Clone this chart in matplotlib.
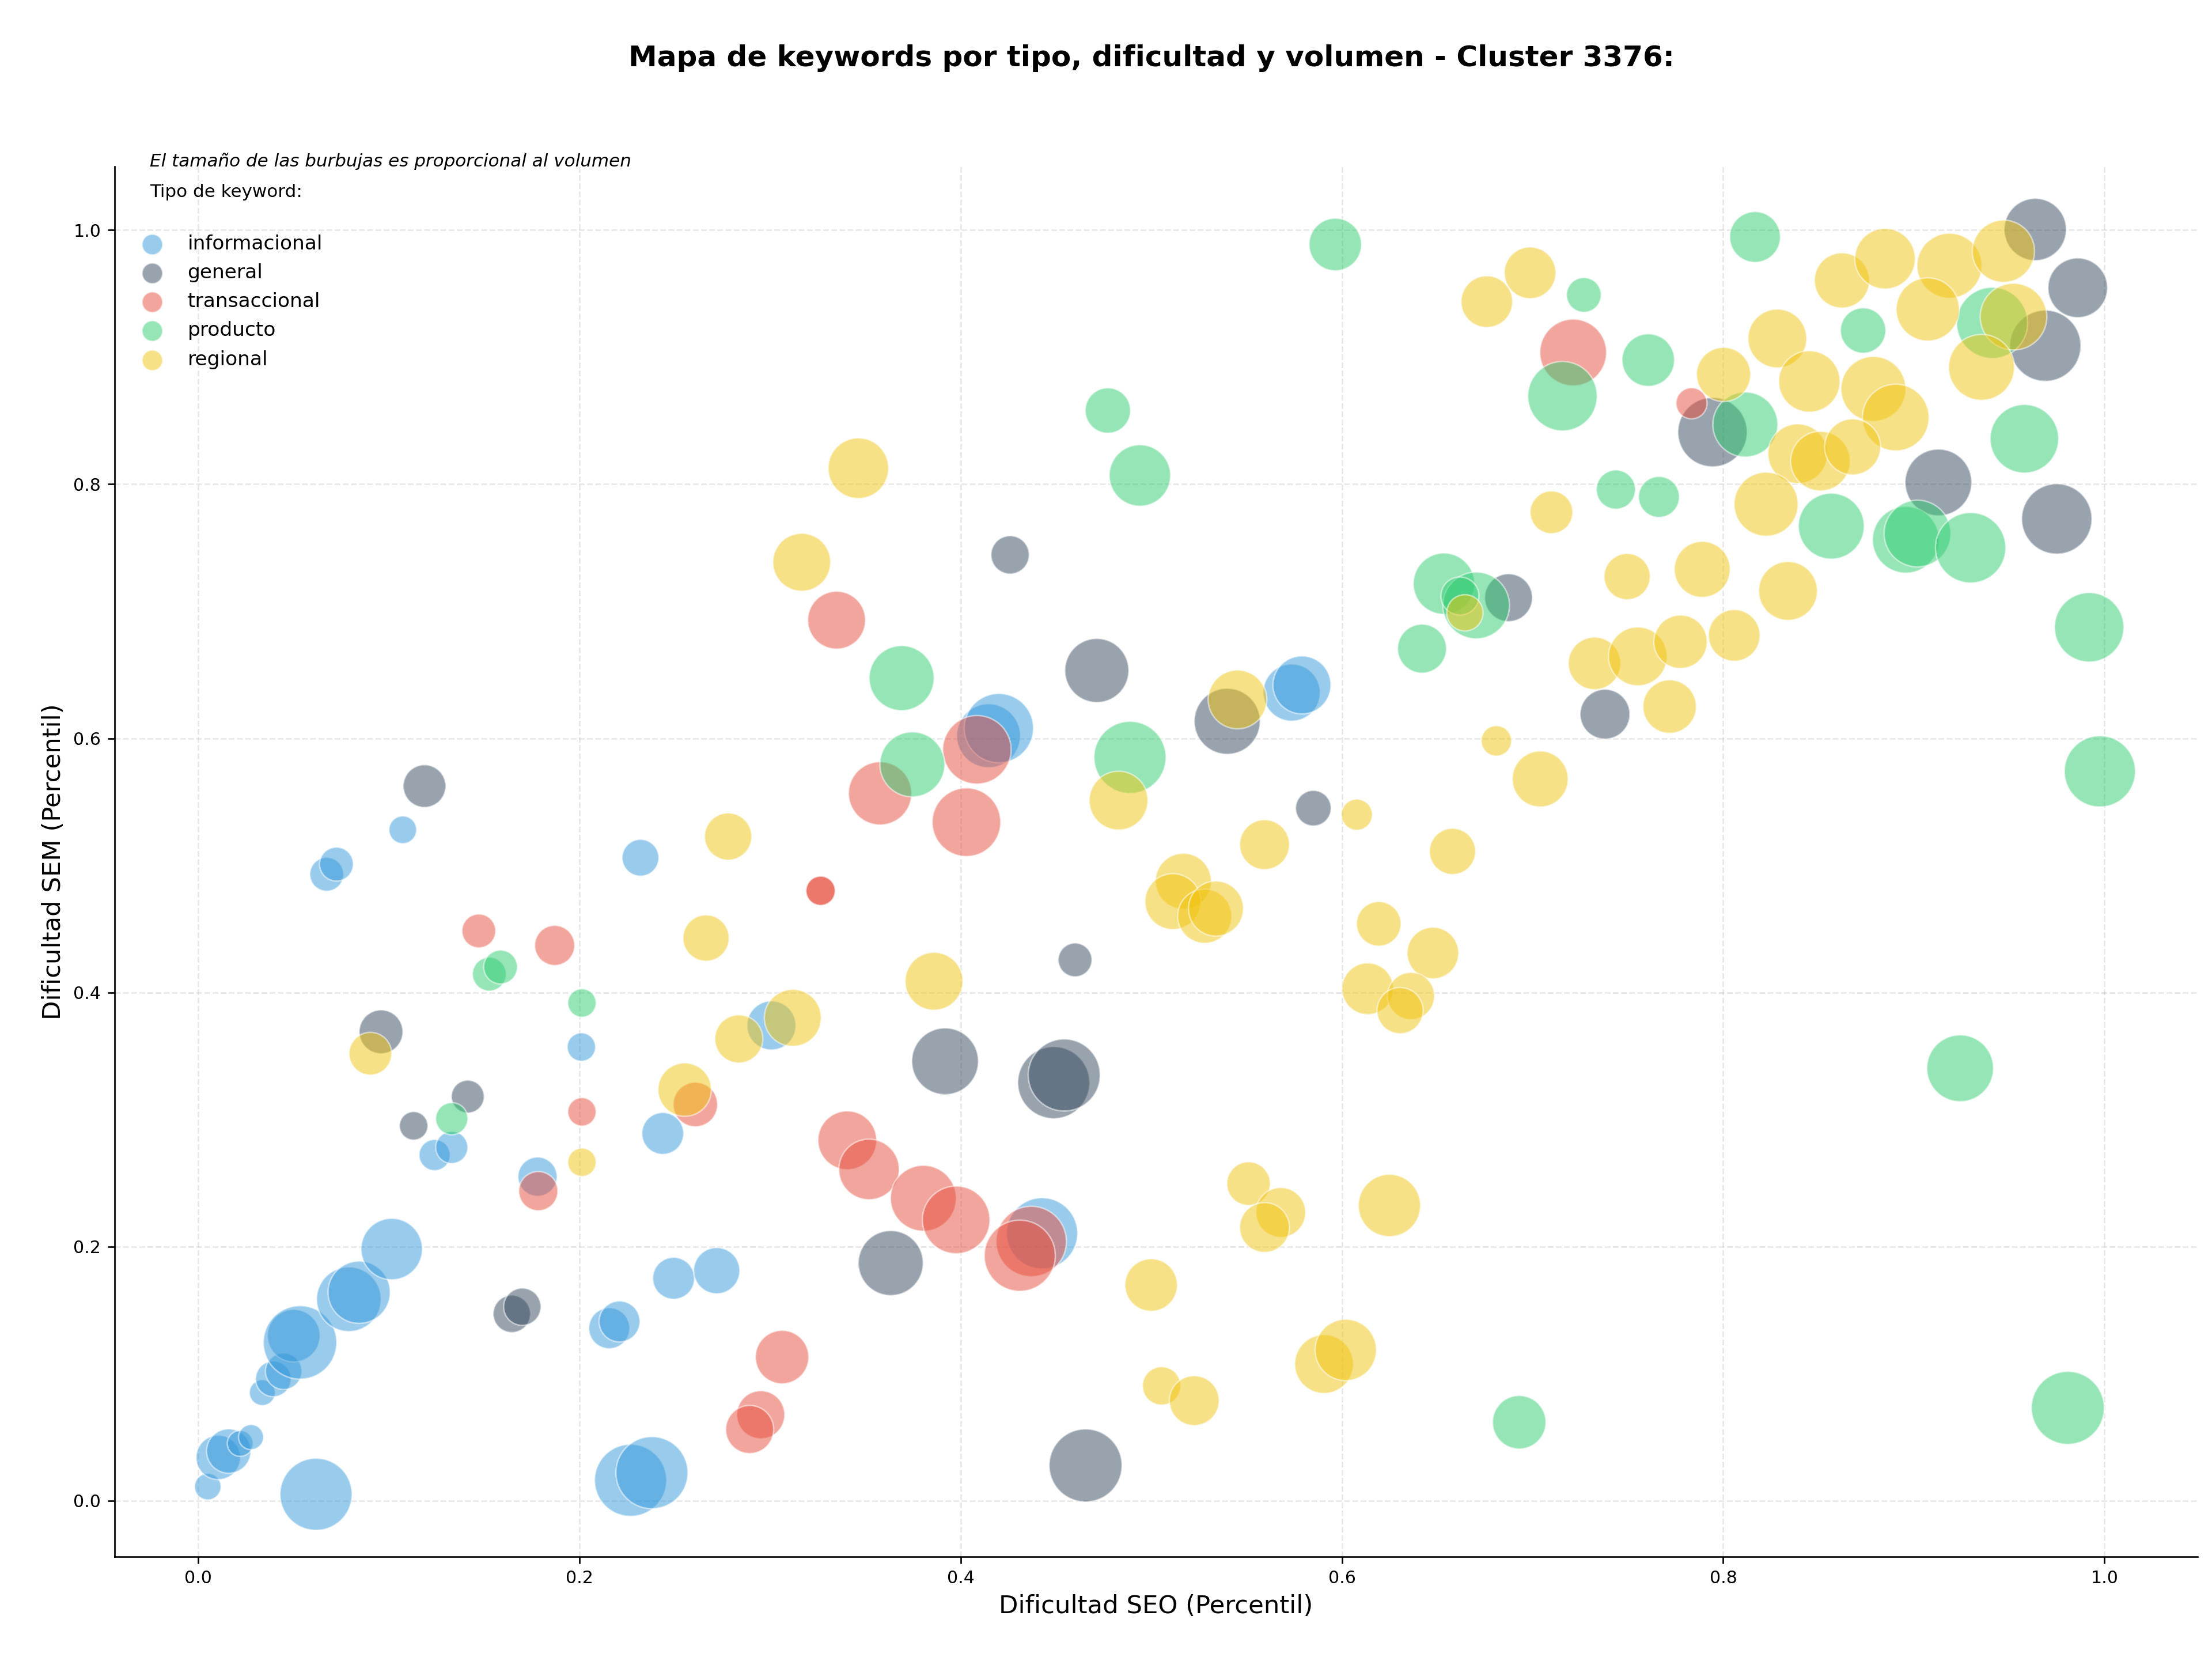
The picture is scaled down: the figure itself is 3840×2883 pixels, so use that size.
import matplotlib
matplotlib.use("Agg")
import matplotlib.pyplot as plt
import numpy as np

# datos: dificultad SEO (x), dificultad SEM (y), volumen (tamano)
info_x = [0.005, 0.0105, 0.016, 0.022, 0.0277, 0.0336, 0.0394, 0.0448, 0.0501, 0.0534,
          0.0618, 0.079, 0.0844, 0.1015, 0.0674, 0.0725, 0.1073, 0.124, 0.133, 0.178,
          0.201, 0.2156, 0.221, 0.2268, 0.238, 0.232, 0.2437, 0.2494, 0.272, 0.3007,
          0.4146, 0.42, 0.4427, 0.5736, 0.579]
info_y = [0.011, 0.034, 0.039, 0.045, 0.050, 0.085, 0.0958, 0.1018, 0.1298, 0.1245,
          0.005, 0.1585, 0.164, 0.198, 0.493, 0.501, 0.528, 0.272, 0.278, 0.255,
          0.357, 0.1357, 0.141, 0.016, 0.022, 0.506, 0.289, 0.175, 0.181, 0.374,
          0.602, 0.608, 0.2104, 0.636, 0.642]
info_vol = [190, 534, 534, 181, 170, 180, 343, 360, 747, 1460,
            1406, 1128, 1050, 1020, 310, 310, 207, 262, 280, 415,
            218, 454, 454, 1406, 1406, 365, 475, 475, 577, 650,
            1100, 1300, 1370, 882, 910]

gen_x = [0.1187, 0.0959, 0.113, 0.1414, 0.1645, 0.170, 0.4259, 0.4714, 0.5398, 0.585,
         0.46, 0.3918, 0.4488, 0.4543, 0.3633, 0.4655, 0.7944, 0.6874, 0.738, 0.9129,
         0.975, 0.969, 0.986, 0.9637]
gen_y = [0.5624, 0.369, 0.295, 0.318, 0.147, 0.1526, 0.7444, 0.6534, 0.6134, 0.545,
         0.4256, 0.3458, 0.329, 0.335, 0.187, 0.0277, 0.841, 0.7107, 0.619, 0.8014,
         0.7727, 0.909, 0.9546, 1.0005]
gen_vol = [493, 520, 220, 293, 378, 378, 397, 1110, 1180, 343,
           309, 1205, 1406, 1406, 1143, 1441, 1304, 620, 672, 1205,
           1340, 1372, 962, 1050]

trans_x = [0.1472, 0.187, 0.2013, 0.1784, 0.2608, 0.3063, 0.2951, 0.2893, 0.3265, 0.3265,
           0.3405, 0.3519, 0.3804, 0.3976, 0.437, 0.431, 0.3349, 0.3577, 0.403, 0.4085,
           0.7213, 0.7834]
trans_y = [0.4484, 0.437, 0.306, 0.2436, 0.3118, 0.113, 0.0676, 0.056, 0.48, 0.48,
           0.2836, 0.2607, 0.238, 0.221, 0.204, 0.1928, 0.693, 0.5567, 0.534, 0.591,
           0.9037, 0.8637]
trans_vol = [309, 434, 218, 415, 536, 772, 625, 625, 233, 233,
             934, 992, 1174, 1238, 1340, 1370, 905, 1081, 1272, 1270,
             1205, 262]

prod_x = [0.1527, 0.1586, 0.2013, 0.133, 0.4772, 0.494, 0.5965, 0.369, 0.3746, 0.4888,
          0.6535, 0.642, 0.6704, 0.6619, 0.8167, 0.7269, 0.7607, 0.7157, 0.8116, 0.8734,
          0.9411, 0.7437, 0.7663, 0.958, 0.8567, 0.8958, 0.9019, 0.9298, 0.992, 0.9976,
          0.9243, 0.9808, 0.693]
prod_y = [0.4144, 0.420, 0.3917, 0.3006, 0.858, 0.8069, 0.9887, 0.6474, 0.5795, 0.585,
          0.7217, 0.6706, 0.7046, 0.712, 0.9946, 0.949, 0.8977, 0.8693, 0.847, 0.921,
          0.927, 0.7958, 0.79, 0.8358, 0.767, 0.7563, 0.7612, 0.75, 0.6874, 0.574,
          0.3403, 0.073, 0.0617]
prod_vol = [309, 309, 218, 280, 557, 1020, 746, 1143, 1143, 1406,
            1020, 648, 1205, 392, 697, 326, 746, 1304, 1143, 557,
            1370, 415, 454, 1272, 1174, 1205, 1205, 1340, 1304, 1370,
            1205, 1441, 772]

reg_x = [0.0903, 0.2013, 0.2552, 0.2836, 0.3119, 0.2664, 0.278, 0.3166, 0.3463, 0.386,
         0.4828, 0.5452, 0.5594, 0.6078, 0.658, 0.676, 0.6645, 0.5168, 0.5113, 0.528,
         0.5339, 0.6193, 0.6477, 0.6135, 0.6362, 0.6305, 0.551, 0.5679, 0.5594, 0.6249,
         0.4999, 0.5054, 0.5225, 0.5906, 0.602, 0.6987, 0.8623, 0.8849, 0.9187, 0.947,
         0.9073, 0.9523, 0.8284, 0.8002, 0.8452, 0.8788, 0.8905, 0.9355, 0.8391, 0.851,
         0.8679, 0.8225, 0.7099, 0.7496, 0.789, 0.834, 0.7325, 0.7552, 0.7776, 0.8058,
         0.7719, 0.681, 0.704]
reg_y = [0.3518, 0.2663, 0.3235, 0.3634, 0.380, 0.4428, 0.5227, 0.7386, 0.8126, 0.4088,
         0.551, 0.6306, 0.5163, 0.5399, 0.511, 0.9437, 0.6988, 0.4875, 0.4715, 0.46,
         0.466, 0.454, 0.431, 0.4029, 0.3972, 0.3857, 0.2495, 0.2268, 0.215, 0.2323,
         0.1697, 0.0903, 0.0787, 0.1075, 0.1186, 0.9664, 0.9604, 0.9775, 0.972, 0.9834,
         0.9376, 0.9319, 0.9147, 0.8864, 0.8809, 0.875, 0.8525, 0.892, 0.824, 0.8182,
         0.8294, 0.7843, 0.7779, 0.7273, 0.733, 0.716, 0.659, 0.6645, 0.676, 0.681,
         0.625, 0.598, 0.568]
reg_vol = [493, 218, 772, 625, 878, 577, 602, 905, 992, 905,
           934, 934, 672, 262, 577, 721, 357, 847, 847, 795,
           820, 536, 721, 721, 602, 577, 514, 672, 672, 1050,
           746, 397, 672, 934, 1020, 721, 824, 992, 1143, 1050,
           1081, 1205, 934, 795, 1020, 1143, 1205, 1174, 962, 962,
           847, 1110, 493, 577, 847, 934, 746, 934, 772, 721,
           772, 250, 847]

tipos = ["informacional", "general", "transaccional", "producto", "regional"]
colores = ["#3498db", "#34495e", "#e74c3c", "#2ecc71", "#f1c40f"]
series = [(info_x, info_y, info_vol), (gen_x, gen_y, gen_vol),
          (trans_x, trans_y, trans_vol), (prod_x, prod_y, prod_vol),
          (reg_x, reg_y, reg_vol)]

fig = plt.figure(figsize=(16, 2883 / 240), dpi=240)
ax = fig.add_axes([0.0517, 0.0629, 0.9419, 0.8368])

for tipo, color, (x, y, vol) in zip(tipos, colores, series):
    ax.scatter(x, y, s=np.array(vol), c=color, alpha=0.5,
               edgecolors="white", linewidths=0.8, label=tipo)

ax.set_xlim(-0.044, 1.049)
ax.set_ylim(-0.044, 1.05)
ax.set_xlabel("Dificultad SEO (Percentil)", fontsize=13)
ax.set_ylabel("Dificultad SEM (Percentil)", fontsize=13)
ax.tick_params(labelsize=9)
ax.grid(True, linestyle="--", alpha=0.3)
ax.set_axisbelow(True)
ax.spines["top"].set_visible(False)
ax.spines["right"].set_visible(False)

fig.text(0.5205, 0.965, "Mapa de keywords por tipo, dificultad y volumen - Cluster 3376:",
         ha="center", va="center", fontsize=15, fontweight="bold")
ax.text(0.0169, 1.004, "El tamaño de las burbujas es proporcional al volumen",
        transform=ax.transAxes, fontsize=9.3, style="italic", va="center")
ax.text(0.0169, 0.9817, "Tipo de keyword:", transform=ax.transAxes,
        fontsize=9.3, va="center")

leg = ax.legend(loc="upper left", bbox_to_anchor=(0.0, 0.964), frameon=False,
                fontsize=10.3)
for h in leg.legend_handles:
    h.set_sizes([115])

fig.savefig("out.png", dpi=240)
